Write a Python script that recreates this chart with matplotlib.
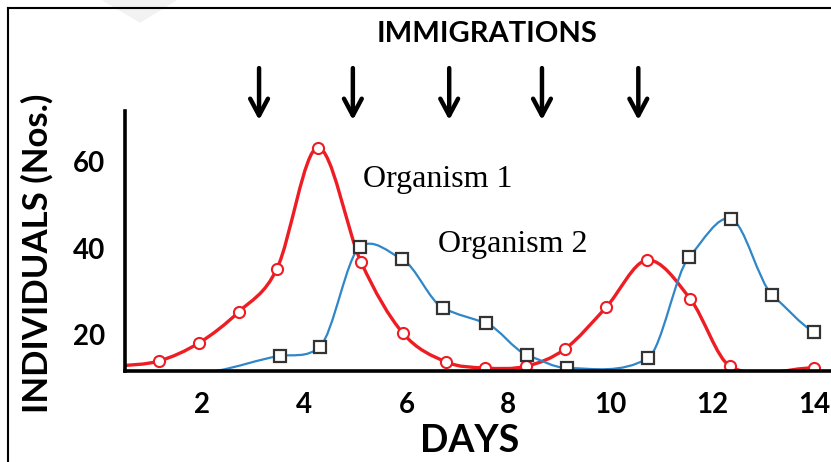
import numpy as np
import matplotlib
matplotlib.use("Agg")
import matplotlib.pyplot as plt
from matplotlib.path import Path
from matplotlib.patches import PathPatch, Polygon
from matplotlib.lines import Line2D

# Organism 1 (red circles); first point has no marker, it sits left of the axis
org1_days = [0.33, 1.14, 1.93, 2.71, 3.46, 4.26, 5.11, 5.93, 6.78, 7.54, 8.35,
             9.11, 9.92, 10.72, 11.57, 12.35, 14.00]
org1_vals = [12.6, 13.8, 18.0, 25.2, 35.2, 63.3, 36.8, 20.3, 13.6, 12.2, 12.6,
             16.6, 26.3, 37.2, 28.2, 12.6, 12.2]

# Organism 2 (blue squares); first point is where the curve leaves the baseline
org2_days = [2.25, 3.52, 4.30, 5.09, 5.91, 6.72, 7.56, 8.37, 9.15, 10.74,
             11.55, 12.37, 13.18, 14.00]
org2_vals = [11.5, 15.0, 17.1, 40.3, 37.5, 26.1, 22.6, 15.2, 12.2, 14.5,
             38.0, 46.8, 29.1, 20.5]

immigration_days = [3.11, 4.95, 6.84, 8.66, 10.55]
xticks = [2, 4, 6, 8, 10, 12, 14]
yticks = [20, 40, 60]

RED = "#ee1d23"
BLUE = "#2f86c8"


def smooth_path(xs, ys, tension=1.0):
    # cubic bezier through the points (catmull-rom style tangents)
    xs = np.asarray(xs, float)
    ys = np.asarray(ys, float)
    m = np.zeros_like(ys)
    m[1:-1] = (ys[2:] - ys[:-2]) / (xs[2:] - xs[:-2])
    m[0] = (ys[1] - ys[0]) / (xs[1] - xs[0])
    m[-1] = (ys[-1] - ys[-2]) / (xs[-1] - xs[-2])
    m = m * tension
    verts = [(xs[0], ys[0])]
    codes = [Path.MOVETO]
    for i in range(len(xs) - 1):
        h = xs[i + 1] - xs[i]
        verts += [(xs[i] + h / 3, ys[i] + m[i] * h / 3),
                  (xs[i + 1] - h / 3, ys[i + 1] - m[i + 1] * h / 3),
                  (xs[i + 1], ys[i + 1])]
        codes += [Path.CURVE4] * 3
    return Path(verts, codes)


fig = plt.figure(figsize=(8.31, 4.62), dpi=100)
ax = fig.add_axes([125 / 831, 1 - 371 / 462, 706 / 831, 260 / 462])

ax.add_patch(PathPatch(smooth_path(org1_days, org1_vals), fill=False,
                       edgecolor=RED, lw=2.4, zorder=2))
ax.add_patch(PathPatch(smooth_path(org2_days, org2_vals, 0.65), fill=False,
                       edgecolor=BLUE, lw=1.6, zorder=2))
ax.plot(org1_days[1:], org1_vals[1:], ls="none", marker="o", ms=8,
        mfc="white", mec=RED, mew=1.5, zorder=3)
ax.plot(org2_days[1:], org2_vals[1:], ls="none", marker="s", ms=9,
        mfc="white", mec="#333333", mew=1.6, zorder=3)

ax.set_xlim(0.48, 14.33)
ax.set_ylim(11.5, 71.8)
ax.set_xticks(xticks)
ax.set_yticks(yticks)
for s in ["top", "right"]:
    ax.spines[s].set_visible(False)
for s in ["left", "bottom"]:
    ax.spines[s].set_linewidth(2.6)
    ax.spines[s].set_zorder(4)
ax.tick_params(length=0)
ax.tick_params(axis="y", pad=14)
ax.tick_params(axis="x", pad=15)
for lab in ax.get_xticklabels() + ax.get_yticklabels():
    lab.set_family(["Lato", "DejaVu Sans"])
    lab.set_fontweight("bold")
    lab.set_fontsize(20)

ax.text(5.15, 54.2, "Organism 1", family=["Liberation Serif", "DejaVu Serif"],
        fontsize=23, va="baseline")
ax.text(6.62, 39.1, "Organism 2", family=["Liberation Serif", "DejaVu Serif"],
        fontsize=23, va="baseline")

# immigration arrows above the plot
for d in immigration_days:
    ax.annotate("", xy=(d, 0.965), xytext=(d, 1.165),
                xycoords=ax.get_xaxis_transform(),
                textcoords=ax.get_xaxis_transform(),
                arrowprops=dict(arrowstyle="->,head_length=0.6,head_width=0.32",
                                lw=3.2, color="black", mutation_scale=20,
                                shrinkA=0, shrinkB=0))

fig.text(487 / 831, 1 - 34 / 462, "IMMIGRATIONS", ha="center", va="center",
         family=["Lato", "DejaVu Sans"], fontweight="bold", fontsize=21)
fig.text(470 / 831, 1 - 441 / 462, "DAYS", ha="center", va="center",
         family=["Lato", "DejaVu Sans"], fontweight="bold", fontsize=27)
fig.text(37 / 831, 1 - 253 / 462, "INDIVIDUALS (Nos.)", ha="center",
         va="center", rotation=90, family=["Lato", "DejaVu Sans"],
         fontweight="bold", fontsize=25)

# frame around the picture and the faint grey blob at the top
fig.add_artist(Line2D([8 / 831, 8 / 831], [0, 1 - 8 / 462], color="black",
                      lw=1.5, transform=fig.transFigure))
fig.add_artist(Line2D([8 / 831, 1], [1 - 8 / 462, 1 - 8 / 462], color="black",
                      lw=1.5, transform=fig.transFigure))
fig.add_artist(Polygon([(103 / 831, 1), (176 / 831, 1), (140 / 831, 1 - 22 / 462)],
                       closed=True, color="#f2f2f2", transform=fig.transFigure,
                       zorder=0))

fig.savefig("out.png", dpi=100)
